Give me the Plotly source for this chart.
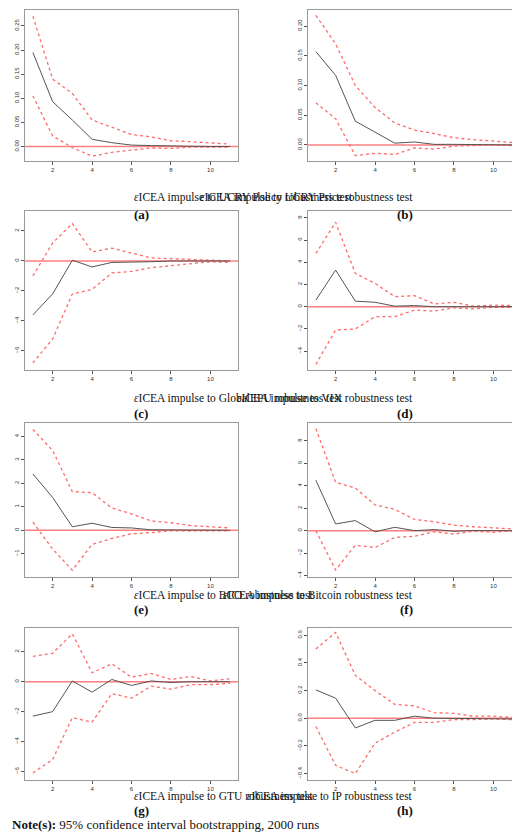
import plotly.graph_objects as go

# -------------------------------------------------------
# Datos: respuestas impulso (IRF) y bandas del 95%
# -------------------------------------------------------
horizonte = list(range(1, 12))

irf_a = [0.195, 0.093, 0.055, 0.015, 0.008, 0.003, 0.002, 0.001, 0.0005, 0, 0]
sup_a = [0.27, 0.14, 0.11, 0.055, 0.04, 0.025, 0.02, 0.012, 0.01, 0.007, 0.005]
inf_a = [0.105, 0.022, -0.002, -0.02, -0.012, -0.007, -0.003, -0.004, -0.001, -0.001, -0.001]

irf_b = [0.157, 0.117, 0.04, 0.022, 0.003, 0.005, 0.001, 0.001, 0.0005, 0, 0]
sup_b = [0.218, 0.17, 0.1, 0.063, 0.037, 0.025, 0.019, 0.012, 0.009, 0.006, 0.004]
inf_b = [0.071, 0.044, -0.018, -0.014, -0.016, -0.005, -0.007, -0.002, -0.001, 0, -0.001]

irf_c = [-3.6, -2.2, 0.05, -0.4, -0.1, -0.1, -0.05, 0, 0, 0, 0]
sup_c = [-1.0, 1.2, 2.5, 0.6, 0.85, 0.5, 0.2, 0.15, 0.1, 0.05, 0.0]
inf_c = [-6.8, -5.2, -2.2, -1.9, -0.8, -0.7, -0.45, -0.3, -0.15, -0.05, -0.1]

irf_d = [0.6, 3.3, 0.5, 0.4, 0.05, 0.1, 0, 0, 0, 0, 0]
sup_d = [4.8, 7.6, 3.0, 2.1, 0.9, 1.0, 0.25, 0.4, 0.05, 0.15, 0.1]
inf_d = [-5.2, -2.1, -2.0, -0.9, -0.9, -0.3, -0.4, -0.1, -0.2, -0.05, -0.05]

irf_e = [2.4, 1.4, 0.15, 0.3, 0.12, 0.1, 0.02, 0.02, 0.01, 0, 0]
sup_e = [4.3, 3.4, 1.65, 1.6, 0.95, 0.7, 0.4, 0.32, 0.2, 0.15, 0.1]
inf_e = [0.35, -0.8, -1.7, -0.6, -0.35, -0.15, -0.1, -0.02, -0.03, -0.01, -0.02]

irf_f = [4.5, 0.6, 0.9, -0.1, 0.3, 0, 0.1, -0.05, 0.02, 0, 0]
sup_f = [9.1, 4.3, 3.8, 2.3, 1.9, 1.0, 0.8, 0.5, 0.35, 0.25, 0.15]
inf_f = [0, -3.5, -1.3, -1.5, -0.6, -0.5, -0.1, -0.3, -0.05, -0.15, 0]

irf_g = [-2.3, -2.0, 0.05, -0.7, 0.15, -0.25, 0.05, -0.05, 0, 0, 0]
sup_g = [1.7, 1.9, 3.2, 0.6, 1.2, 0.3, 0.55, 0.15, 0.35, 0.05, 0.2]
inf_g = [-6.1, -5.2, -2.4, -2.7, -0.8, -1.1, -0.3, -0.5, -0.2, -0.2, -0.1]

irf_h = [0.205, 0.145, -0.07, -0.015, -0.015, 0.015, 0, 0, 0, 0, -0.005]
sup_h = [0.5, 0.62, 0.31, 0.2, 0.1, 0.09, 0.04, 0.035, 0.015, 0.015, 0.005]
inf_h = [-0.06, -0.34, -0.4, -0.18, -0.1, -0.03, -0.03, -0.01, -0.01, -0.005, -0.01]

variables = ["UCRY Policy", "UCRY Price", "GlobalEPU", "VIX", "BCO", "Bitcoin", "GTU", "IP"]
letras = ["a", "b", "c", "d", "e", "f", "g", "h"]

# -------------------------------------------------------
# Configuración de paneles (posición en píxeles)
# -------------------------------------------------------
W, H = 520, 838
paneles = [
    (irf_a, sup_a, inf_a, [-0.03, 0.283], [0, 0.05, 0.10, 0.15, 0.20, 0.25], ".2f"),
    (irf_b, sup_b, inf_b, [-0.027, 0.227], [0, 0.05, 0.10, 0.15, 0.20], ".2f"),
    (irf_c, sup_c, inf_c, [-7.27, 3.33], [-6, -4, -2, 0, 2], "d"),
    (irf_d, sup_d, inf_d, [-5.7, 8.62], [-4, -2, 0, 2, 4, 6, 8], "d"),
    (irf_e, sup_e, inf_e, [-1.99, 4.57], [-1, 0, 1, 2, 3, 4], "d"),
    (irf_f, sup_f, inf_f, [-4.13, 9.6], [-4, -2, 0, 2, 4, 6, 8], "d"),
    (irf_g, sup_g, inf_g, [-6.57, 3.59], [-6, -4, -2, 0, 2], "d"),
    (irf_h, sup_h, inf_h, [-0.446, 0.652], [-0.4, -0.2, 0, 0.2, 0.4, 0.6], ".1f"),
]
filas_px = [(2, 153, 181, 197), (203, 362, 390, 406), (415, 569, 596, 611), (620, 772, 797, 812)]
cols_px = [(17, 230), (300, 513)]

fig = go.Figure()

for i, (irf, sup, inf, rango, ticks, fmt) in enumerate(paneles):
    fila, col = divmod(i, 2)
    top, bot, cap_y, lab_y = filas_px[fila]
    x0, x1 = cols_px[col]
    suf = "" if i == 0 else str(i + 1)
    xa, ya = f"x{suf}", f"y{suf}"

    fig.add_trace(go.Scatter(x=horizonte, y=sup, mode="lines", xaxis=xa, yaxis=ya,
                             line=dict(color="#ff6b6b", width=1.3, dash="dot")))
    fig.add_trace(go.Scatter(x=horizonte, y=inf, mode="lines", xaxis=xa, yaxis=ya,
                             line=dict(color="#ff6b6b", width=1.3, dash="dot")))
    fig.add_trace(go.Scatter(x=horizonte, y=irf, mode="lines", xaxis=xa, yaxis=ya,
                             line=dict(color="#555555", width=1)))

    fig.add_shape(type="line", xref=f"{xa} domain", yref=ya, x0=0, x1=1, y0=0, y1=0,
                  line=dict(color="#ff7f7f", width=1.5), layer="below")

    eje = dict(showgrid=False, zeroline=False, showline=True, mirror=True,
               linecolor="#9a9a9a", linewidth=1, ticks="outside", ticklen=3,
               tickcolor="#555", tickfont=dict(size=6, color="#333", family="Liberation Sans"))
    fig.update_layout({
        f"xaxis{suf}": dict(eje, domain=[x0 / W, x1 / W], anchor=ya, range=[0.6, 11.4],
                            tickvals=[2, 4, 6, 8, 10]),
        f"yaxis{suf}": dict(eje, domain=[1 - bot / H, 1 - top / H], anchor=xa, range=rango,
                            tickvals=ticks, tickformat=fmt, tickangle=-90),
    })

    cx = (x0 + x1) / 2 / W
    fig.add_annotation(text=f"<i>ε</i>ICEA impulse to {variables[i]} robustness test",
                       x=cx, y=1 - cap_y / H, xref="paper", yref="paper", showarrow=False,
                       font=dict(size=11.5, family="Liberation Serif", color="#111"))
    fig.add_annotation(text=f"<b>({letras[i]})</b>", x=cx, y=1 - lab_y / H,
                       xref="paper", yref="paper", showarrow=False,
                       font=dict(size=13, family="Liberation Serif", color="#111"))

fig.add_annotation(text="<b>Note(s):</b> 95% confidence interval bootstrapping, 2000 runs",
                   x=2 / W, y=1 - 826 / H, xref="paper", yref="paper", xanchor="left",
                   showarrow=False, font=dict(size=13, family="Liberation Serif", color="#111"))

fig.update_layout(width=W, height=H, margin=dict(l=0, r=0, t=0, b=0),
                  showlegend=False, plot_bgcolor="white", paper_bgcolor="white")

fig.write_html("out.html")
